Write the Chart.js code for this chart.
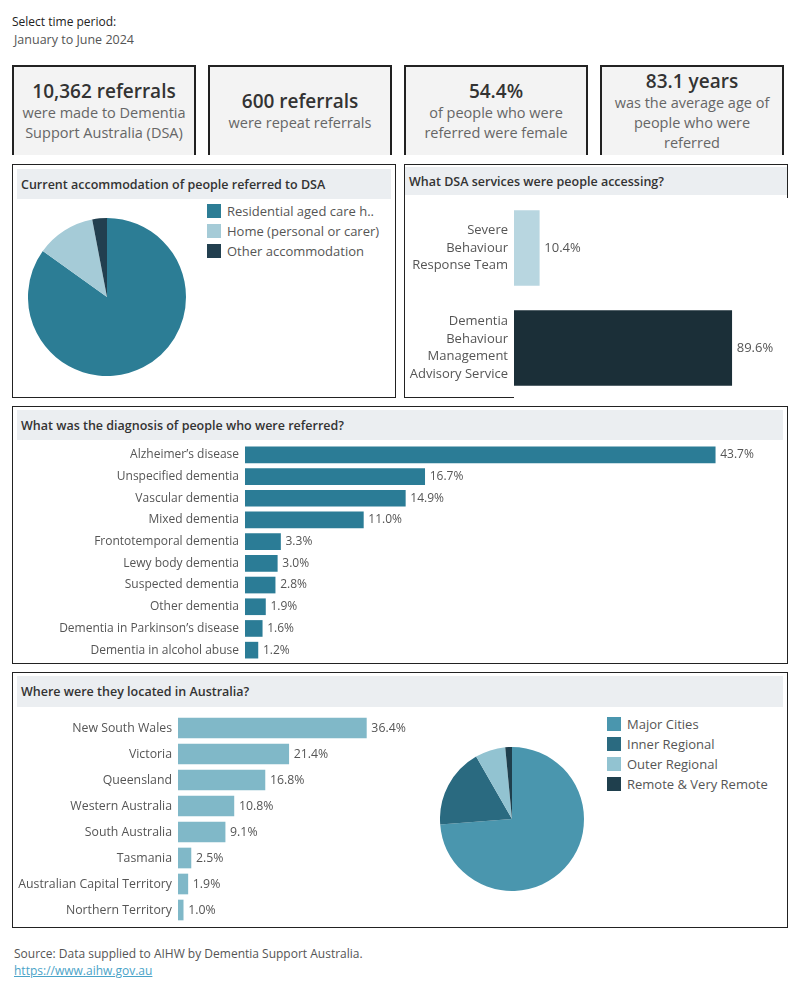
<!DOCTYPE html>
<html>
<head>
<meta charset="utf-8">
<script src="https://cdn.jsdelivr.net/npm/chart.js@4"></script>
<style>
  body { margin: 0; width: 800px; height: 1000px; background: #fff; font-family: "Open Sans", sans-serif; color: #333; position: relative; }
  .abs { position: absolute; }
  .kpi { position: absolute; top: 65px; height: 90px; width: 184px; background: #f3f3f3; border-top: 2px solid #222; border-left: 2px solid #222; border-right: 2px solid #222; box-sizing: border-box; display: flex; flex-direction: column; justify-content: center; align-items: center; text-align: center; }
  .kpi .big { font-size: 19px; font-weight: 600; color: #333; line-height: 24px; }
  .kpi .sub { font-size: 14.5px; color: #666; line-height: 20px; }
  .panel { position: absolute; border: 1px solid #222; box-sizing: border-box; }
  .band { position: absolute; background: #ebeef1; font-size: 12.5px; font-weight: 600; color: #333; box-sizing: border-box; padding-left: 4px; display: flex; align-items: center; }
  .legend div { position: absolute; font-size: 13px; color: #555; white-space: nowrap; line-height: 16px; }
  .legend span { display: inline-block; width: 14px; height: 14px; vertical-align: -2px; margin-right: 6px; }
  canvas { position: absolute; }
</style>
</head>
<body>
<div class="abs" style="left:12px;top:13px;font-size:12px;color:#222;">Select time period:</div>
<div class="abs" style="left:14px;top:31px;font-size:12.5px;color:#555;">January to June 2024</div>

<div class="kpi" style="left:12px;"><div class="big">10,362 referrals</div><div class="sub">were made to Dementia<br>Support Australia (DSA)</div></div>
<div class="kpi" style="left:208px;"><div class="big">600 referrals</div><div class="sub">were repeat referrals</div></div>
<div class="kpi" style="left:404px;"><div class="big">54.4%</div><div class="sub">of people who were<br>referred were female</div></div>
<div class="kpi" style="left:600px;"><div class="big">83.1 years</div><div class="sub">was the average age of<br>people who were<br>referred</div></div>

<!-- accommodation -->
<div class="panel" style="left:12px;top:164px;width:384px;height:234px;"></div>
<div class="band" style="left:17px;top:169px;width:374px;height:30px;">Current accommodation of people referred to DSA</div>
<canvas id="accomChart" width="158" height="158" style="left:28px;top:218px;"></canvas>
<div class="legend" id="accomLegend"></div>

<!-- services -->
<div class="abs" style="left:404px;top:164px;width:384px;height:1px;background:#222;"></div>
<div class="abs" style="left:404px;top:164px;width:1px;height:234px;background:#222;"></div>
<div class="abs" style="left:787px;top:164px;width:1px;height:34px;background:#222;"></div>
<div class="abs" style="left:404px;top:397px;width:110px;height:1px;background:#222;"></div>
<div class="band" style="left:405px;top:167px;width:382px;height:28px;">What DSA services were people accessing?</div>
<canvas id="serviceChart" width="382" height="200" style="left:405px;top:198px;"></canvas>

<!-- diagnosis -->
<div class="panel" style="left:12px;top:406px;width:776px;height:258px;"></div>
<div class="band" style="left:17px;top:410px;width:766px;height:30px;">What was the diagnosis of people who were referred?</div>
<canvas id="diagChart" width="766" height="217" style="left:17px;top:444px;"></canvas>

<!-- location -->
<div class="panel" style="left:12px;top:672px;width:776px;height:256px;"></div>
<div class="band" style="left:17px;top:676px;width:766px;height:31px;">Where were they located in Australia?</div>
<canvas id="stateChart" width="400" height="208" style="left:17px;top:715px;"></canvas>
<canvas id="remoteChart" width="144" height="144" style="left:440px;top:747px;"></canvas>
<div class="legend" id="remoteLegend"></div>

<div class="abs" style="left:14px;top:945px;font-size:12px;color:#555;">Source: Data supplied to AIHW by Dementia Support Australia.</div>
<div class="abs" style="left:14px;top:962px;font-size:12px;color:#4aa3c8;text-decoration:underline;">https://www.aihw.gov.au</div>

<script>
// accommodation pie
const accomLabels = ['Residential aged care h..', 'Home (personal or carer)', 'Other accommodation'];
const accomValues = [84.9, 12.1, 3.0];
const accomColors = ['#2c7d95', '#a5cbd7', '#223f4f'];

// services bars
const serviceLabels = [['Severe', 'Behaviour', 'Response Team'], ['Dementia', 'Behaviour', 'Management', 'Advisory Service']];
const serviceValues = [10.4, 89.6];
const serviceColors = ['#b8d6e0', '#1b2f38'];

// diagnosis bars
const diagLabels = ['Alzheimer\u2019s disease', 'Unspecified dementia', 'Vascular dementia', 'Mixed dementia', 'Frontotemporal dementia', 'Lewy body dementia', 'Suspected dementia', 'Other dementia', 'Dementia in Parkinson\u2019s disease', 'Dementia in alcohol abuse'];
const diagValues = [43.7, 16.7, 14.9, 11.0, 3.3, 3.0, 2.8, 1.9, 1.6, 1.2];

// state bars
const stateLabels = ['New South Wales', 'Victoria', 'Queensland', 'Western Australia', 'South Australia', 'Tasmania', 'Australian Capital Territory', 'Northern Territory'];
const stateValues = [36.4, 21.4, 16.8, 10.8, 9.1, 2.5, 1.9, 1.0];

// remoteness pie
const remoteLabels = ['Major Cities', 'Inner Regional', 'Outer Regional', 'Remote & Very Remote'];
const remoteValues = [73.8, 17.9, 6.8, 1.5];
const remoteColors = ['#4a96ae', '#2a6a80', '#92c3d1', '#1f3f4d'];

const FONT = '"Open Sans", sans-serif';
Chart.defaults.font.family = FONT;
Chart.defaults.animation = false;
Chart.defaults.plugins.tooltip.enabled = false;
Chart.defaults.plugins.legend.display = false;

const valueLabels = {
    id: 'valueLabels',
    afterDatasetsDraw(chart, args, opts) {
        const ctx = chart.ctx;
        ctx.save();
        ctx.font = (opts.size || 12) + 'px ' + FONT;
        ctx.fillStyle = '#555';
        ctx.textAlign = 'left';
        ctx.textBaseline = 'middle';
        chart.getDatasetMeta(0).data.forEach((bar, i) => {
            ctx.fillText(chart.data.datasets[0].data[i].toFixed(1) + '%', bar.x + 5, bar.y);
        });
        ctx.restore();
    }
};

function makeLegend(id, left, top, labels, colors) {
    const el = document.getElementById(id);
    labels.forEach((l, i) => {
        const d = document.createElement('div');
        d.style.left = left + 'px';
        d.style.top = (top + i * 20) + 'px';
        d.innerHTML = '<span style="background:' + colors[i] + '"></span>' + l;
        el.appendChild(d);
    });
}

function pie(id, labels, values, colors) {
    new Chart(document.getElementById(id), {
        type: 'pie',
        data: { labels: labels, datasets: [{ data: values, backgroundColor: colors, borderWidth: 0 }] },
        options: { responsive: false, layout: { padding: 0 } }
    });
}

function hbar(id, labels, values, colors, axisWidth, max, padRight, thickness, fontSize, lineHeight) {
    new Chart(document.getElementById(id), {
        type: 'bar',
        data: { labels: labels, datasets: [{ data: values, backgroundColor: colors, barThickness: thickness }] },
        options: {
            indexAxis: 'y',
            responsive: false,
            layout: { padding: { top: 0, bottom: 0, left: 0, right: padRight } },
            plugins: { valueLabels: { size: fontSize } },
            scales: {
                x: { display: false, min: 0, max: max },
                y: {
                    grid: { display: false, drawTicks: false },
                    border: { display: false },
                    ticks: { color: '#555', font: { size: fontSize, lineHeight: lineHeight }, padding: 6, autoSkip: false },
                    afterFit: (scale) => {
                        scale.width = axisWidth;
                        // let the rows use the full canvas height
                        scale.paddingTop = 0;
                        scale.paddingBottom = 0;
                    }
                }
            }
        },
        plugins: [valueLabels]
    });
}

pie('accomChart', accomLabels, accomValues, accomColors);
makeLegend('accomLegend', 207, 203, accomLabels, accomColors);

hbar('serviceChart', serviceLabels, serviceValues, serviceColors, 109, 100, 30, 75, 13, 1.35);
hbar('diagChart', diagLabels, diagValues, '#2b7c96', 228, 50, 0, 16, 12, 1.2);
hbar('stateChart', stateLabels, stateValues, '#80b8c8', 161, 40, 32, 20, 12.3, 1.2);

pie('remoteChart', remoteLabels, remoteValues, remoteColors);
makeLegend('remoteLegend', 607, 716, remoteLabels, remoteColors);
</script>
</body>
</html>
